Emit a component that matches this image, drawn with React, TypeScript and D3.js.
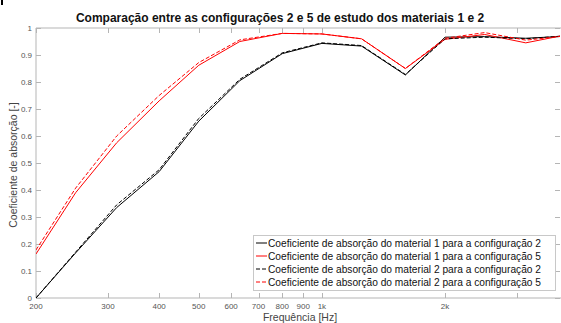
import React, { useEffect, useRef } from "react";
import * as d3 from "d3";

const freqs = [200, 250, 315, 400, 500, 630, 800, 1000, 1250, 1600, 2000, 2500, 3150, 4000];
const mat1cfg2 = [0.0, 0.167, 0.335, 0.468, 0.655, 0.805, 0.905, 0.943, 0.933, 0.826, 0.966, 0.968, 0.962, 0.97];
const mat1cfg5 = [0.163, 0.39, 0.575, 0.73, 0.862, 0.95, 0.98, 0.978, 0.96, 0.85, 0.958, 0.976, 0.945, 0.976];
const mat2cfg2 = [0.0, 0.17, 0.345, 0.475, 0.665, 0.81, 0.908, 0.945, 0.935, 0.828, 0.96, 0.966, 0.96, 0.972];
const mat2cfg5 = [0.178, 0.407, 0.6, 0.75, 0.872, 0.956, 0.98, 0.978, 0.96, 0.85, 0.962, 0.983, 0.955, 0.972];

const xTicks = [200, 300, 400, 500, 600, 700, 800, 900, 1000, 2000, 3000];
const xTickLabels = ["200", "300", "400", "500", "600", "700", "800", "900", "1k", "2k", ""];
const yTicks = [0, 0.1, 0.2, 0.3, 0.4, 0.5, 0.6, 0.7, 0.8, 0.9, 1];

const seriesNames = [
  "Coeficiente de absorção do material 1 para a configuração 2",
  "Coeficiente de absorção do material 1 para a configuração 5",
  "Coeficiente de absorção do material 2 para a configuração 2",
  "Coeficiente de absorção do material 2 para a configuração 5",
];
const seriesData = [mat1cfg2, mat1cfg5, mat2cfg2, mat2cfg5];
const seriesColor = ["#000000", "#ff0000", "#000000", "#ff0000"];
const seriesDash = [null, null, "4,2", "4,2"];

export default function App() {
  const ref = useRef<SVGSVGElement>(null);

  useEffect(() => {
    const svg = d3.select(ref.current);
    svg.selectAll("*").remove();
    const font = "Liberation Sans, Arial, sans-serif";
    const left = 36, right = 560, top = 28, bottom = 298;

    var x = d3.scaleLog().domain([200, 3820]).range([left, right]);
    var y = d3.scaleLinear().domain([0, 1]).range([bottom, top]);

    svg.append("rect").attr("x", 1).attr("y", 0).attr("width", 2).attr("height", 5).attr("fill", "#000");

    svg.append("clipPath").attr("id", "plotclip")
      .append("rect").attr("x", left).attr("y", top - 2).attr("width", right - left).attr("height", bottom - top + 4);

    // axes box
    const axisColor = "#b5b5b5";
    svg.append("line").attr("x1", left).attr("x2", left).attr("y1", top).attr("y2", bottom).attr("stroke", axisColor);
    svg.append("line").attr("x1", left).attr("x2", right + 5).attr("y1", bottom).attr("y2", bottom).attr("stroke", axisColor);
    svg.append("line").attr("x1", left).attr("x2", right + 5).attr("y1", top).attr("y2", top).attr("stroke", axisColor);

    // x ticks (inward, bottom and top)
    xTicks.forEach((t, i) => {
      const px = Math.round(x(t)) + 0.5;
      svg.append("line").attr("x1", px).attr("x2", px).attr("y1", bottom).attr("y2", bottom - 5).attr("stroke", axisColor);
      svg.append("line").attr("x1", px).attr("x2", px).attr("y1", top).attr("y2", top + 5).attr("stroke", axisColor);
      svg.append("text").attr("x", x(t)).attr("y", bottom + 11).attr("text-anchor", "middle")
        .attr("font-family", font).attr("font-size", 8).attr("fill", "#555").text(xTickLabels[i]);
    });

    // y ticks
    yTicks.forEach((t) => {
      const py = Math.round(y(t)) + 0.5;
      svg.append("line").attr("x1", left).attr("x2", left + 5).attr("y1", py).attr("y2", py).attr("stroke", axisColor);
      svg.append("line").attr("x1", right).attr("x2", right - 5).attr("y1", py).attr("y2", py).attr("stroke", axisColor);
      svg.append("text").attr("x", left - 4).attr("y", y(t) + 3).attr("text-anchor", "end")
        .attr("font-family", font).attr("font-size", 8).attr("fill", "#555").text(d3.format("")(t));
    });

    // lines
    const plot = svg.append("g").attr("clip-path", "url(#plotclip)");
    seriesData.forEach((data, i) => {
      const line = d3.line<number>().x((d, j) => x(freqs[j])).y((d) => y(d));
      plot.append("path").datum(data).attr("d", line).attr("fill", "none")
        .attr("stroke", seriesColor[i]).attr("stroke-width", 1)
        .attr("stroke-dasharray", seriesDash[i]);
    });

    // title and labels
    svg.append("text").attr("x", 280).attr("y", 22).attr("text-anchor", "middle")
      .attr("font-family", font).attr("font-size", 12).attr("font-weight", "bold").attr("fill", "#111")
      .text("Comparação entre as configurações 2 e 5 de estudo dos materiais 1 e 2");
    svg.append("text").attr("x", 300).attr("y", 321).attr("text-anchor", "middle")
      .attr("font-family", font).attr("font-size", 10.5).attr("fill", "#444").text("Frequência [Hz]");
    svg.append("text").attr("transform", "translate(17,165) rotate(-90)").attr("text-anchor", "middle")
      .attr("font-family", font).attr("font-size", 10.5).attr("fill", "#444").text("Coeficiente de absorção [-]");

    // legend
    const lg = svg.append("g");
    lg.append("rect").attr("x", 253.5).attr("y", 235.5).attr("width", 302).attr("height", 55)
      .attr("fill", "#fff").attr("stroke", "#c8c8c8");
    seriesNames.forEach((name, i) => {
      const ly = 243 + i * 13;
      lg.append("line").attr("x1", 256).attr("x2", 267).attr("y1", ly).attr("y2", ly)
        .attr("stroke", seriesColor[i]).attr("stroke-dasharray", seriesDash[i]);
      lg.append("text").attr("x", 268).attr("y", ly + 3.5).attr("font-family", font).attr("font-size", 10.2)
        .attr("fill", "#111").text(name);
    });
  }, []);

  return (
    <svg ref={ref} width={561} height={323} style={{ position: "absolute", left: 0, top: 0, background: "#fff" }} />
  );
}
